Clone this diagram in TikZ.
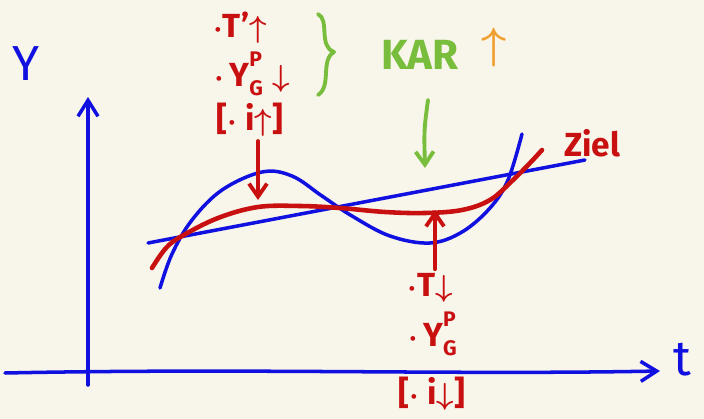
\documentclass[tikz,border=0pt]{standalone}
\usepackage{tikz}
\usetikzlibrary{arrows.meta, calc, positioning}
\usepackage{fontspec}
\setsansfont{Fira Sans}
\definecolor{boardBg}{HTML}{F8F5EA}
\definecolor{penBlue}{HTML}{1010E0}
\definecolor{penRed}{HTML}{C81010}
\definecolor{penGreen}{HTML}{78BE3C}
\definecolor{penOrange}{HTML}{F0A030}
\tikzset{
  % thick pen strokes, like a hand sketch on a tablet
  every picture/.append style = {line cap=round, line join=round},
  axisline/.style  = {-{Straight Barb[length=3.2mm, width=4mm]}, penBlue, line width=2pt},
  bluepen/.style   = {penBlue, line width=2pt},
  redpen/.style    = {penRed, line width=2.6pt},
  redarrow/.style  = {-{Straight Barb[length=2.6mm, width=3.6mm]}, penRed, line width=2.2pt},
  greenarrow/.style= {-{Straight Barb[length=2.6mm, width=3.6mm]}, penGreen, line width=2.2pt},
  redlbl/.style    = {penRed, font=\sffamily\bfseries\boldmath\fontsize{19}{21}\selectfont, inner sep=0pt},
  greenlbl/.style  = {penGreen, font=\sffamily\bfseries\fontsize{24}{26}\selectfont},
  axislbl/.style   = {penBlue, font=\sffamily\fontsize{28}{30}\selectfont},
}
\newcommand{\smallidx}[1]{{\fontsize{12}{12}\selectfont #1}}
\newcommand{\ygp}{Y\rlap{\raisebox{-0.5ex}{\smallidx{G}}}\raisebox{1.1ex}{\smallidx{P}}\hspace{0.3em}}

\begin{document}
\begin{tikzpicture}[x=0.02cm, y=-0.02cm]
  % paper
  \fill[boardBg] (0,0) rectangle (704,419);
  \useasboundingbox (0,0) rectangle (704,419);
  % axes
  \coordinate (yfoot) at (88,385);
  \coordinate (ytop) at (88,97);
  \coordinate (xfoot) at (5,373);
  \coordinate (xtip) at (660,371);
  \draw[axisline] (yfoot) -- (ytop);
  \draw[axisline] (xfoot) .. controls (250,368) and (450,375) .. (xtip);
  \node[axislbl] (ylbl) at (26,64) {Y};
  \node[axislbl] (tlbl) at (682,360) {t};
  % trend line and cycle
  \draw[bluepen] (148,243) -- (585,160);
  \draw[bluepen] plot[smooth, tension=0.6] coordinates {(160,288) (172,254) (192,220)
    (222,190) (262,172) (292,176) (322,196) (352,216) (390,236) (430,243)
    (462,232) (490,208) (508,180) (522,134)};
  % target path
  \draw[redpen] plot[smooth, tension=0.6] coordinates {(152,268) (166,248) (182,236)
    (218,218) (258,207) (300,206) (340,208) (385,212) (425,213) (462,210)
    (490,200) (512,181) (530,163) (542,150)};
  \node[penRed, font=\sffamily\bfseries\fontsize{19}{21}\selectfont] (ziel) at (592,143) {Ziel};
  % upper labels
  \node[redlbl] (tUp) at (240,28) {$\cdot$T'$\uparrow$};
  \node[redlbl] (ygDown) at (252,74) {$\cdot$\,\ygp$\downarrow$};
  \node[redlbl] (iUp) at (250,120) {[$\cdot$ i$\uparrow$]};
  \coordinate (peak) at (258,200);
  \draw[redarrow] (iUp.south -| peak) ++(0,4) -- (peak);
  % green brace and KAR
  \draw[penGreen, line width=2.2pt] (318,14) .. controls (330,20) and (318,46) .. (334,52)
     .. controls (320,60) and (332,86) .. (318,95);
  \node[greenlbl] (kar) at (420,55) {KAR};
  \node[penOrange, font=\sffamily\bfseries\boldmath\fontsize{24}{26}\selectfont] (karup) at (494,48) {$\uparrow$};
  \coordinate (karhit) at (425,168);
  \draw[greenarrow] (428,100) .. controls (424,130) .. (karhit);
  % lower labels
  \node[redlbl] (tDown) at (430,288) {$\cdot$T$\downarrow$};
  \node[redlbl] (ygLow) at (432,334) {$\cdot$\,\ygp};
  \node[redlbl] (iDown) at (432,394) {[$\cdot$ i$\downarrow$]};
  \coordinate (trough) at (435,210);
  \draw[redarrow] (tDown.north -| trough) ++(0,-4) -- (trough);
\end{tikzpicture}
\end{document}
